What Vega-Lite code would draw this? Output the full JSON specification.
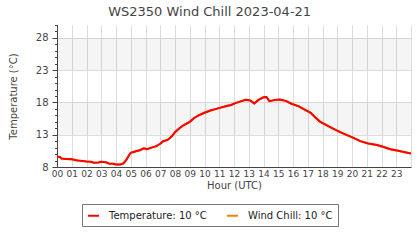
{
  "$schema": "https://vega.github.io/schema/vega-lite/v6.json",
  "autosize": "none",
  "width": 354,
  "height": 142,
  "padding": {"left": 57, "top": 25, "right": 9, "bottom": 73},
  "background": "#ffffff",
  "title": {"text": "WS2350 Wind Chill 2023-04-21", "fontSize": 13, "fontWeight": "normal", "color": "#444444", "anchor": "middle", "frame": "bounds", "offset": 1},
  "config": {
    "font": "DejaVu Sans",
    "view": {"stroke": null},
    "axis": {"domainColor": "#444444", "tickColor": "#444444", "labelColor": "#444444", "titleColor": "#444444", "gridColor": "#dcdcdc", "gridWidth": 1, "titleFontWeight": "normal"}
  },
  "resolve": {"axis": {"y": "independent"}},
  "layer": [
    {
      "data": {"values": [{"lo": 23, "hi": 28}, {"lo": 13, "hi": 18}]},
      "mark": {"type": "rect", "fill": "#000000", "opacity": 0.04},
      "encoding": {
        "y": {"field": "lo", "type": "quantitative", "axis": null},
        "y2": {"field": "hi"}
      }
    },
    {
      "data": {"values": [
        {"hour": 0.0, "temp": 9.6, "chill": 9.6},
        {"hour": 0.2, "temp": 9.55, "chill": 9.55},
        {"hour": 0.3, "temp": 9.3, "chill": 9.3},
        {"hour": 0.6, "temp": 9.25, "chill": 9.25},
        {"hour": 1.0, "temp": 9.2, "chill": 9.2},
        {"hour": 1.3, "temp": 9.05, "chill": 9.05},
        {"hour": 1.6, "temp": 8.95, "chill": 8.95},
        {"hour": 2.0, "temp": 8.85, "chill": 8.85},
        {"hour": 2.3, "temp": 8.8, "chill": 8.8},
        {"hour": 2.5, "temp": 8.65, "chill": 8.65},
        {"hour": 2.8, "temp": 8.7, "chill": 8.7},
        {"hour": 3.0, "temp": 8.8, "chill": 8.8},
        {"hour": 3.3, "temp": 8.75, "chill": 8.75},
        {"hour": 3.5, "temp": 8.55, "chill": 8.55},
        {"hour": 3.8, "temp": 8.5, "chill": 8.5},
        {"hour": 4.0, "temp": 8.4, "chill": 8.4},
        {"hour": 4.3, "temp": 8.4, "chill": 8.4},
        {"hour": 4.5, "temp": 8.55, "chill": 8.55},
        {"hour": 4.7, "temp": 9.1, "chill": 9.1},
        {"hour": 4.85, "temp": 9.7, "chill": 9.7},
        {"hour": 5.0, "temp": 10.2, "chill": 10.2},
        {"hour": 5.3, "temp": 10.4, "chill": 10.4},
        {"hour": 5.6, "temp": 10.6, "chill": 10.6},
        {"hour": 5.9, "temp": 10.9, "chill": 10.9},
        {"hour": 6.1, "temp": 10.75, "chill": 10.75},
        {"hour": 6.4, "temp": 11.0, "chill": 11.0},
        {"hour": 6.7, "temp": 11.2, "chill": 11.2},
        {"hour": 7.0, "temp": 11.6, "chill": 11.6},
        {"hour": 7.2, "temp": 12.0, "chill": 12.0},
        {"hour": 7.5, "temp": 12.2, "chill": 12.2},
        {"hour": 7.8, "temp": 12.8, "chill": 12.8},
        {"hour": 8.0, "temp": 13.4, "chill": 13.4},
        {"hour": 8.3, "temp": 14.0, "chill": 14.0},
        {"hour": 8.6, "temp": 14.5, "chill": 14.5},
        {"hour": 9.0, "temp": 15.0, "chill": 15.0},
        {"hour": 9.3, "temp": 15.6, "chill": 15.6},
        {"hour": 9.6, "temp": 16.0, "chill": 16.0},
        {"hour": 10.0, "temp": 16.4, "chill": 16.4},
        {"hour": 10.4, "temp": 16.75, "chill": 16.75},
        {"hour": 10.8, "temp": 17.0, "chill": 17.0},
        {"hour": 11.1, "temp": 17.2, "chill": 17.2},
        {"hour": 11.5, "temp": 17.45, "chill": 17.45},
        {"hour": 11.8, "temp": 17.6, "chill": 17.6},
        {"hour": 12.1, "temp": 17.9, "chill": 17.9},
        {"hour": 12.5, "temp": 18.2, "chill": 18.2},
        {"hour": 12.8, "temp": 18.4, "chill": 18.4},
        {"hour": 13.1, "temp": 18.3, "chill": 18.3},
        {"hour": 13.37, "temp": 17.85, "chill": 17.85},
        {"hour": 13.66, "temp": 18.4, "chill": 18.4},
        {"hour": 14.0, "temp": 18.8, "chill": 18.8},
        {"hour": 14.2, "temp": 18.85, "chill": 18.85},
        {"hour": 14.4, "temp": 18.2, "chill": 18.2},
        {"hour": 14.8, "temp": 18.4, "chill": 18.4},
        {"hour": 15.1, "temp": 18.45, "chill": 18.45},
        {"hour": 15.5, "temp": 18.25, "chill": 18.25},
        {"hour": 15.9, "temp": 17.8, "chill": 17.8},
        {"hour": 16.4, "temp": 17.4, "chill": 17.4},
        {"hour": 16.7, "temp": 17.0, "chill": 17.0},
        {"hour": 17.2, "temp": 16.4, "chill": 16.4},
        {"hour": 17.5, "temp": 15.7, "chill": 15.7},
        {"hour": 17.85, "temp": 15.0, "chill": 15.0},
        {"hour": 18.3, "temp": 14.45, "chill": 14.45},
        {"hour": 18.75, "temp": 13.9, "chill": 13.9},
        {"hour": 19.2, "temp": 13.4, "chill": 13.4},
        {"hour": 19.66, "temp": 12.95, "chill": 12.95},
        {"hour": 20.1, "temp": 12.5, "chill": 12.5},
        {"hour": 20.56, "temp": 12.0, "chill": 12.0},
        {"hour": 21.1, "temp": 11.65, "chill": 11.65},
        {"hour": 21.7, "temp": 11.4, "chill": 11.4},
        {"hour": 22.15, "temp": 11.1, "chill": 11.1},
        {"hour": 22.6, "temp": 10.75, "chill": 10.75},
        {"hour": 23.05, "temp": 10.55, "chill": 10.55},
        {"hour": 23.6, "temp": 10.3, "chill": 10.3},
        {"hour": 24.0, "temp": 10.1, "chill": 10.1}
      ]},
      "transform": [{"fold": ["chill", "temp"], "as": ["series", "value"]}],
      "mark": {"type": "line", "strokeWidth": 2, "clip": true},
      "encoding": {
        "x": {
          "field": "hour", "type": "quantitative",
          "scale": {"domain": [0, 24], "nice": false, "zero": false},
          "axis": {
            "values": [0,1,2,3,4,5,6,7,8,9,10,11,12,13,14,15,16,17,18,19,20,21,22,23,24],
            "labelExpr": "datum.value == 24 ? '' : (datum.value < 10 ? '0' : '') + datum.value",
            "title": "Hour (UTC)", "ticks": false, "labelFontSize": 9, "labelPadding": 2,
            "titleFontSize": 10, "titlePadding": 2, "grid": true, "labelFlush": false, "labelOverlap": false
          }
        },
        "y": {
          "field": "value", "type": "quantitative",
          "scale": {"domain": [8, 30], "nice": false, "zero": false},
          "axis": {
            "orient": "left",
            "values": [8,9,10,11,12,13,14,15,16,17,18,19,20,21,22,23,24,25,26,27,28,29,30],
            "labelExpr": "(datum.value == 8 || datum.value == 13 || datum.value == 18 || datum.value == 23 || datum.value == 28) ? datum.label : ''",
            "gridOpacity": {"condition": {"test": "datum.value == 8 || datum.value == 13 || datum.value == 18 || datum.value == 23 || datum.value == 28", "value": 1}, "value": 0},
            "tickDash": {"condition": {"test": "datum.value == 8 || datum.value == 13 || datum.value == 18 || datum.value == 23 || datum.value == 28", "value": []}, "value": [2.5, 10]},
            "tickSize": 5,
            "title": "Temperature (°C)", "labelFontSize": 10, "labelPadding": 4,
            "titleFontSize": 10, "titlePadding": 17, "labelFlush": false, "labelOverlap": false, "grid": true
          }
        },
        "color": {
          "field": "series", "type": "nominal",
          "scale": {"domain": ["temp", "chill"], "range": ["#ff0000", "#ff8000"]},
          "legend": {
            "orient": "none", "legendX": 25, "legendY": 179, "direction": "horizontal", "title": null,
            "symbolType": "stroke", "symbolStrokeWidth": 2, "symbolSize": 121,
            "labelFontSize": 10, "labelColor": "#222222", "labelOffset": 9, "columnPadding": 16,
            "padding": 5, "strokeColor": "#777777", "fillColor": "#ffffff",
            "labelExpr": "datum.value == 'temp' ? 'Temperature: 10 °C' : 'Wind Chill: 10 °C'"
          }
        }
      }
    }
  ]
}
